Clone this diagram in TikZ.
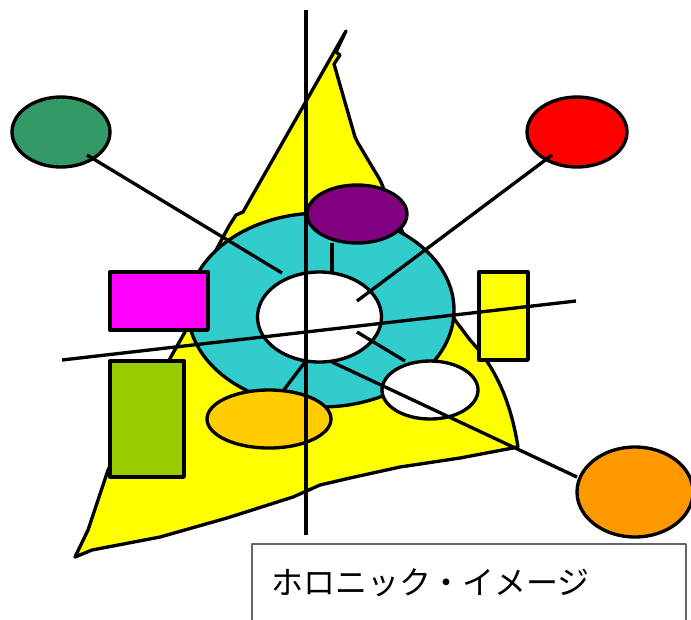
\documentclass[tikz,border=0pt]{standalone}
\usepackage{fontspec}
\newfontfamily\jpfont{Noto Sans CJK JP}
\usetikzlibrary{shapes.geometric}

\definecolor{seagreen}{HTML}{339966}
\definecolor{ringcyan}{HTML}{33CCCC}
\definecolor{plum}{HTML}{800080}
\definecolor{leaf}{HTML}{99CC00}
\definecolor{gold}{HTML}{FFCC00}
\definecolor{tangerine}{HTML}{FF9900}
\definecolor{lemon}{HTML}{FFFF00}
\definecolor{fuchsia}{HTML}{FF00FF}
\definecolor{scarlet}{HTML}{FF0000}

\begin{document}
\begin{tikzpicture}[x=0.75pt,y=-0.75pt,line join=round,
  blob/.style={ellipse,draw,inner sep=0pt,line width=2.5pt},
  slab/.style={rectangle,draw,inner sep=0pt,line width=2.5pt},
  spoke/.style={line width=2.5pt}]
\useasboundingbox (0,0) rectangle (691,619);
% yellow field
\filldraw[fill=lemon,line width=2.5pt] (346,31) -- (243,212) -- (236,215) -- (229,226)
  -- (200,280) -- (185,332) -- (168,362) -- (108,470) -- (98,500) -- (88,530)
  -- (75,557) -- (92,550) -- (160,537) -- (227,518) -- (293,497) -- (320,485)
  -- (350,478) -- (400,467) -- (460,458) -- (518,447)
  .. controls (512,410) and (500,372) .. (470,340) -- (455,320) -- (420,250)
  -- (403,233) -- (380,180) -- (358,143) -- (355,137) -- (334,64) -- (340,55)
  -- (336,52) -- cycle;
% ring and hub
\node[blob,fill=ringcyan,minimum width=199.5pt,minimum height=145.5pt] (ring) at (321,310) {};
\node[blob,fill=white,minimum width=93pt,minimum height=67.5pt] (hub) at (319.5,317) {};
% parts round the ring
\node[blob,fill=plum,minimum width=75pt,minimum height=43.5pt] (top) at (357,214) {};
\node[blob,fill=gold,minimum width=93pt,minimum height=43.5pt] (low) at (269,419) {};
\node[blob,fill=white,minimum width=72pt,minimum height=43.5pt] (side) at (430,390) {};
\node[slab,fill=fuchsia,minimum width=73.5pt,minimum height=43.5pt] (west) at (159,301) {};
\node[slab,fill=lemon,minimum width=36.75pt,minimum height=66pt] (east) at (503.5,316) {};
\node[slab,fill=leaf,minimum width=55.5pt,minimum height=87pt] (south) at (147,419) {};
% outer parts
\node[blob,fill=seagreen,minimum width=73.5pt,minimum height=52.5pt] (nw) at (61,132) {};
\node[blob,fill=scarlet,minimum width=75pt,minimum height=52.5pt] (ne) at (577,132) {};
\node[blob,fill=tangerine,minimum width=87pt,minimum height=67.5pt] (se) at (635,492) {};
% axes
\coordinate (axtop) at (306,10);
\coordinate (axbot) at (306,535);
\coordinate (axleft) at (62,360);
\coordinate (axright) at (576,301);
\draw[spoke] (axtop) -- (axbot);
\draw[spoke] (axleft) -- (axright);
% spokes
\coordinate (nwend) at (282,273);
\coordinate (neend) at (357,301);
\coordinate (sidein) at (357,332);
\coordinate (sein) at (332,362);
\draw[spoke] ([shift={(26,23)}]nw.center) -- (nwend);
\draw[spoke] ([shift={(-25,23)}]ne.center) -- (neend);
\draw[spoke] ([shift={(-25,29)}]top.center) -- ([shift={(12.5,-44)}]hub.center);
\draw[spoke] (sidein) -- ([shift={(-25,-29)}]side.center);
\draw[spoke] (sein) -- ([shift={(-58,-15)}]se.center);
\draw[spoke] ([shift={(-14.5,45)}]hub.center) -- ([shift={(14,-28)}]low.center);
% caption
\node[draw=black!60,line width=1.2pt,anchor=north west,inner xsep=14.5pt,
  text width=296.5pt,minimum height=58.5pt,align=left,
  font=\jpfont\fontsize{24pt}{28pt}\selectfont] (cap) at (251,543) {ホロニック・イメージ};
\end{tikzpicture}
\end{document}
